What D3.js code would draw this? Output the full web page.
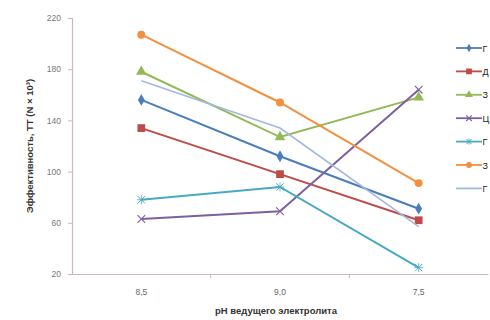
<!DOCTYPE html>
<html><head><meta charset="utf-8">
<script src="https://cdn.jsdelivr.net/npm/d3@7"></script>
<style>body{margin:0;background:#fff}svg{display:block}</style>
</head><body>
<svg id="c" width="490" height="320"></svg>
<script>
const categories = ["8,5", "9,0", "7,5"];
const yTicks = [20, 60, 100, 140, 180, 220];
const seriesNames = ["Г", "Д", "З", "Ц", "Г", "З", "Г"];
const seriesColors = ["#4a7ebb", "#be4b48", "#93b957", "#7d60a0", "#46aac5", "#f3903f", "#a3b8de"];
const seriesMarkers = ["diamond", "square", "triangle", "x", "star", "circle", "none"];
const s1 = [156, 112, 71];
const s2 = [134, 98, 62];
const s3 = [178, 127, 158];
const s4 = [63, 69, 164];
const s5 = [78, 88, 25];
const s6 = [207, 154, 91];
const s7 = [171, 134, 57];
const seriesValues = [s1, s2, s3, s4, s5, s6, s7];

(function () {
const svg = d3.select("#c");
const mLeft = 72, mRight = 488, mTop = 18, mBottom = 274;
const x = d3.scaleBand().domain(categories).range([mLeft, mRight]);
const y = d3.scaleLinear().domain([20, 220]).range([mBottom, mTop]);
const axisCol = "#c9b9b9";
const font = "'Liberation Sans', Arial, sans-serif";

const xa = svg.append("g").attr("transform", `translate(0,${mBottom})`)
  .call(d3.axisBottom(x).tickSize(0).tickPadding(15));
xa.select(".domain").attr("stroke", axisCol).attr("stroke-width", 1.2);
xa.selectAll("text").attr("font-family", font).attr("font-size", 8.5).attr("fill", "#666");
xa.selectAll(".bt").data(categories.slice(1)).enter().append("line")
  .attr("x1", d => x(d)).attr("x2", d => x(d)).attr("y1", 0).attr("y2", 4)
  .attr("stroke", axisCol);

const ya = svg.append("g").attr("transform", `translate(${mLeft},0)`)
  .call(d3.axisLeft(y).tickValues(yTicks).tickSize(4).tickPadding(7));
ya.select(".domain").attr("stroke", axisCol).attr("stroke-width", 1.2);
ya.selectAll(".tick line").attr("stroke", axisCol);
ya.selectAll("text").attr("font-family", font).attr("font-size", 8.5).attr("fill", "#777");

svg.append("text").attr("transform", "translate(33,146) rotate(-90)")
  .attr("text-anchor", "middle").attr("font-family", font).attr("font-size", 9.5)
  .attr("font-weight", "bold").attr("fill", "#333")
  .text("Эффективность, ТТ (N × 10³)");
svg.append("text").attr("x", 276).attr("y", 314).attr("text-anchor", "middle")
  .attr("font-family", font).attr("font-size", 9.5).attr("font-weight", "bold").attr("fill", "#333")
  .text("pH ведущего электролита");

function marker(g, type, color, cx, cy, k) {
  const t = `translate(${cx},${cy})`;
  if (type === "diamond") {
    g.append("path").attr("d", d3.symbol(d3.symbolDiamond, 40 * k)()).attr("transform", t).attr("fill", color);
  } else if (type === "square") {
    g.append("path").attr("d", d3.symbol(d3.symbolSquare, 60 * k)()).attr("transform", t).attr("fill", color);
  } else if (type === "triangle") {
    g.append("path").attr("d", d3.symbol(d3.symbolTriangle, 50 * k)()).attr("transform", t).attr("fill", color);
  } else if (type === "circle") {
    g.append("path").attr("d", d3.symbol(d3.symbolCircle, 50 * k)()).attr("transform", t).attr("fill", color);
  } else if (type === "x") {
    g.append("path").attr("d", d3.symbol(d3.symbolX, 40 * k)()).attr("transform", t).attr("fill", "none").attr("stroke", color).attr("stroke-width", 1.1);
  } else if (type === "star") {
    g.append("path").attr("d", d3.symbol(d3.symbolX, 36 * k)()).attr("transform", t).attr("fill", "none").attr("stroke", color).attr("stroke-width", 1);
    g.append("path").attr("d", d3.symbol(d3.symbolPlus, 28 * k)()).attr("transform", t).attr("fill", "none").attr("stroke", color).attr("stroke-width", 0.8);
  }
}

const line = d3.line().x((d, i) => x(categories[i]) + x.bandwidth() / 2).y(d => y(d));
seriesValues.forEach((vals, si) => {
  const g = svg.append("g");
  g.append("path").datum(vals).attr("d", line).attr("fill", "none")
    .attr("stroke", seriesColors[si]).attr("stroke-width", si === 6 ? 1.6 : 2);
  vals.forEach((v, i) => marker(g, seriesMarkers[si], seriesColors[si], x(categories[i]) + x.bandwidth() / 2, y(v), 1));
});

const lg = svg.append("g");
seriesNames.forEach((n, i) => {
  const ly = 48 + i * 23.4;
  lg.append("line").attr("x1", 456).attr("x2", 482).attr("y1", ly).attr("y2", ly)
    .attr("stroke", seriesColors[i]).attr("stroke-width", 1.8);
  marker(lg, seriesMarkers[i], seriesColors[i], 469, ly, 0.55);
  lg.append("text").attr("x", 482.5).attr("y", ly + 3.5).attr("font-family", font)
    .attr("font-size", 9).attr("fill", "#222").text(n);
});
})();
</script>
</body></html>
